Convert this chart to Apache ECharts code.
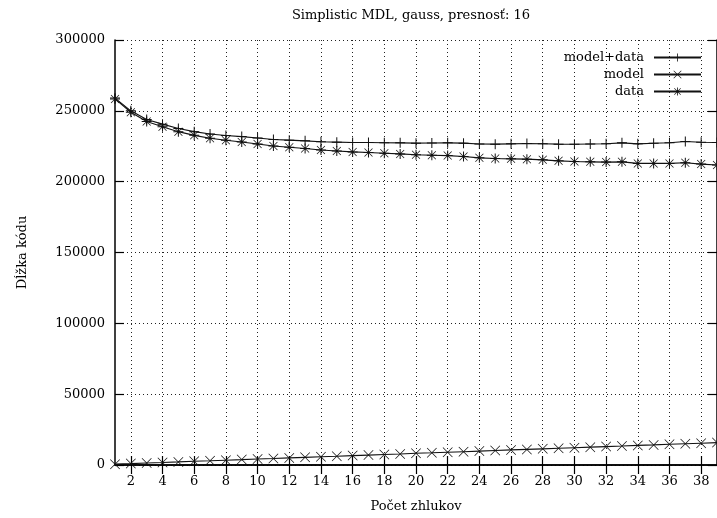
<!DOCTYPE html>
<html><head><meta charset="utf-8">
<script src="https://cdn.jsdelivr.net/npm/echarts@6/dist/echarts.min.js"></script>
<style>html,body{margin:0;padding:0;background:#fff}#c{width:717px;height:518px}</style>
</head><body><div id="c"></div>
<script>
const titleText = 'Simplistic MDL, gauss, presnosť: 16';
const xName = 'Počet zhlukov';
const yName = 'Dĺžka kódu';
const xCats = [1,2,3,4,5,6,7,8,9,10,11,12,13,14,15,16,17,18,19,20,21,22,23,24,25,26,27,28,29,30,31,32,33,34,35,36,37,38,39];
const seriesNames = ['model+data', 'model', 'data'];
const modelData = [259000,250000,243900,240600,237500,235300,233600,232600,231800,230800,229800,229300,228800,228200,227900,227600,227600,227500,227400,227200,227300,227400,227200,226600,226500,226700,226900,226800,226500,226400,226600,226800,227400,226700,227100,227500,228300,227800,227600];
const model = [600,1000,1450,1800,2200,2650,3000,3400,3800,4250,4600,5000,5400,5800,6200,6650,7000,7400,7800,8250,8600,9000,9400,9800,10200,10650,11000,11400,11800,12200,12600,13000,13400,13850,14200,14600,15000,15400,15800];
const data = [258400,249000,242500,238800,235300,232700,230600,229200,228000,226600,225200,224300,223400,222400,221700,221000,220600,220100,219600,219000,218700,218400,217800,216800,216300,216100,215900,215400,214700,214200,214000,213800,214000,212900,212900,212900,213300,212400,211800];
const yMin = 0, yMax = 300000, yStep = 50000;

const FONT = 'DejaVu Serif';
const FS = 13;
const plusPath = 'path://M9,0L11,0L11,9L20,9L20,11L11,11L11,20L9,20L9,11L0,11L0,9L9,9Z';
const crossPath = 'path://M0,1L1,0L20,19L19,20ZM19,0L20,1L1,20L0,19Z';
const starPath = 'path://M9,0L11,0L11,9L20,9L20,11L11,11L11,20L9,20L9,11L0,11L0,9L9,9ZM1.5,2.5L2.5,1.5L18.5,17.5L17.5,18.5ZM17.5,1.5L18.5,2.5L2.5,18.5L1.5,17.5Z';

const evenOnly = (i, v) => Number(v) % 2 === 0;
const dotted = { color: '#222', width: 1, type: [1, 3] };

const chart = echarts.init(document.getElementById('c'), null, { renderer: 'canvas' });
function mkSeries(name, vals, sym, size) {
  return {
    name: name, type: 'line', data: vals, symbol: sym, symbolSize: size,
    showAllSymbol: true, animation: false,
    lineStyle: { color: '#111', width: 1.1 },
    itemStyle: { color: '#111' },
    emphasis: { disabled: true }
  };
}
chart.setOption({
  backgroundColor: '#fff',
  animation: false,
  textStyle: { fontFamily: FONT },
  title: {
    text: titleText, left: 406, top: 4, textAlign: 'center',
    textStyle: { fontFamily: FONT, fontSize: FS, fontWeight: 'normal', color: '#000' }
  },
  legend: {
    data: seriesNames, orient: 'vertical', right: 10, top: 46, align: 'right',
    itemWidth: 47, itemHeight: 10, itemGap: 4,
    textStyle: { fontFamily: FONT, fontSize: FS, color: '#000', padding: [0, 5, 0, 0] }
  },
  grid: { left: 115, top: 40, width: 605.9, height: 428, containLabel: false },
  xAxis: [{
    type: 'category', data: xCats, boundaryGap: false, position: 'bottom',
    name: xName, nameLocation: 'middle', nameGap: 35,
    nameTextStyle: { fontFamily: FONT, fontSize: FS, color: '#000' },
    axisLine: { lineStyle: { color: '#000', width: 1.5 } },
    axisTick: { inside: true, length: 9, interval: evenOnly, lineStyle: { color: '#000', width: 1.2 } },
    axisLabel: { interval: evenOnly, margin: 10, fontFamily: FONT, fontSize: FS, color: '#000' },
    splitLine: { show: true, interval: evenOnly, lineStyle: dotted }
  }, {
    type: 'category', data: xCats, boundaryGap: false, position: 'top',
    axisLine: { lineStyle: { color: '#000', width: 1.5 } },
    axisTick: { inside: true, length: 9, interval: evenOnly, lineStyle: { color: '#000', width: 1.2 } },
    axisLabel: { show: false },
    splitLine: { show: false }
  }],
  yAxis: [{
    type: 'value', min: yMin, max: yMax, interval: yStep, position: 'left',
    name: yName, nameLocation: 'middle', nameGap: 86, nameRotate: 90,
    nameTextStyle: { fontFamily: FONT, fontSize: FS, color: '#000' },
    axisLine: { show: true, lineStyle: { color: '#000', width: 1.5 } },
    axisTick: { show: true, inside: true, length: 9, lineStyle: { color: '#000', width: 1.2 } },
    axisLabel: { margin: 10, fontFamily: FONT, fontSize: FS, color: '#000', formatter: v => String(v) },
    splitLine: { show: true, lineStyle: dotted }
  }, {
    type: 'value', min: yMin, max: yMax, interval: yStep, position: 'right',
    axisLine: { show: true, lineStyle: { color: '#000', width: 1.5 } },
    axisTick: { show: true, inside: true, length: 9, lineStyle: { color: '#000', width: 1.2 } },
    axisLabel: { show: false },
    splitLine: { show: false }
  }],
  series: [
    mkSeries(seriesNames[0], modelData, plusPath, 10),
    mkSeries(seriesNames[1], model, crossPath, 10),
    mkSeries(seriesNames[2], data, starPath, 10)
  ]
});
</script>
</body></html>
